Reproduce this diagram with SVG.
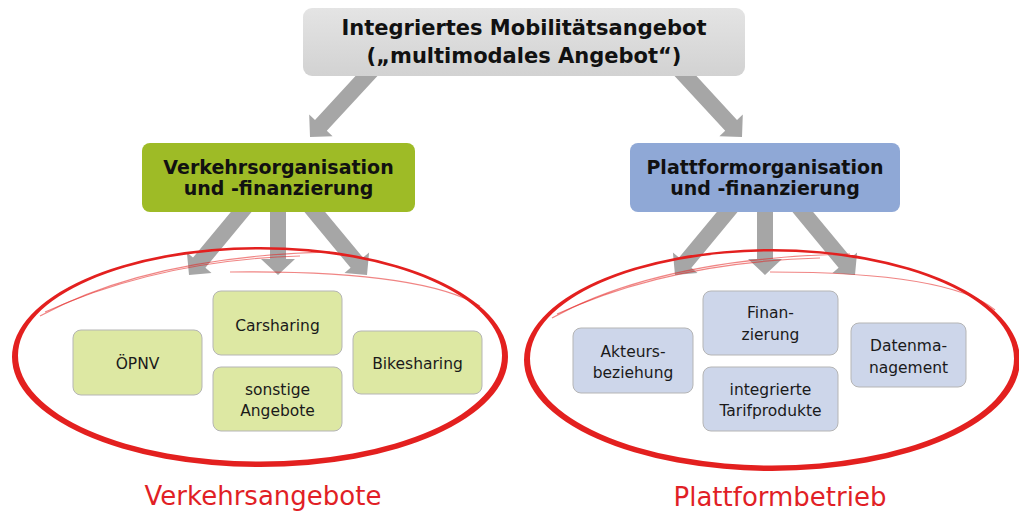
<svg xmlns="http://www.w3.org/2000/svg" width="1019" height="512" viewBox="0 0 1019 512">
<defs>
<linearGradient id="gTop" x1="0" y1="0" x2="0" y2="1"><stop offset="0" stop-color="#e4e4e4"/><stop offset="1" stop-color="#d2d2d2"/></linearGradient>
<style>
.arrow{fill:#a6a6a6;}
.hdr{font-family:"DejaVu Sans",Verdana,sans-serif;font-weight:bold;fill:#111;text-anchor:middle;}
.sm{font-family:"DejaVu Sans",Verdana,sans-serif;font-size:15.5px;fill:#1a1a1a;text-anchor:middle;}
.lbl{font-family:"DejaVu Sans",Verdana,sans-serif;font-size:26px;fill:#e11f26;text-anchor:middle;}
.ring{fill:#e3201f;fill-rule:evenodd;}
.sketch{fill:none;stroke:#e3201f;stroke-width:1.2;opacity:0.55;}
.gbox{fill:#dde8a3;stroke:#b5b5b5;stroke-width:1;}
.bbox{fill:#cdd6ea;stroke:#b5b5b5;stroke-width:1;}
</style>
</defs>
<rect width="1019" height="512" fill="#ffffff"/>
<g id="connectors">
<polygon class="arrow" points="366.1,64.6 315.0,119.9 309.2,114.4 310,137 332.6,136.2 326.8,130.7 377.9,75.4"/>
<polygon class="arrow" points="685.9,64.6 737,119.9 742.8,114.4 742,137 719.4,136.2 725.2,130.7 674.1,75.4"/>
<polygon class="arrow" points="240.8,199.9 193.0,257.6 186.9,252.5 189,275 211.5,272.9 205.4,267.8 253.2,210.1"/>
<polygon class="arrow" points="270,205 270,259 261,259 278,275 295,259 286,259 286,205"/>
<polygon class="arrow" points="315.2,199.9 363,257.6 369.1,252.5 367,275 344.5,272.9 350.6,267.8 302.8,210.1"/>
<polygon class="arrow" points="726.8,199.9 679,257.6 672.9,252.5 675,275 697.5,272.9 691.4,267.8 739.2,210.1"/>
<polygon class="arrow" points="757,205 757,259 748,259 765,275 782,259 773,259 773,205"/>
<polygon class="arrow" points="803.2,199.9 851,257.6 857.1,252.5 855,275 832.5,272.9 838.6,267.8 790.8,210.1"/>
</g>
<g id="group-verkehrsangebote">
<path class="ring" d="M12,357 A248,110 0 1,0 508,357 A248,110 0 1,0 12,357 Z M18,355.5 A242,106 0 1,0 502,355.5 A242,106 0 1,0 18,355.5 Z"/>
<path class="sketch" d="M40,316 Q150,256 330,252"/>
<path class="sketch" d="M45,312 Q160,260 300,256"/>
<path class="sketch" d="M230,272 Q420,270 480,306"/>
<text class="lbl" x="263" y="505">Verkehrsangebote</text>
</g>
<g id="group-plattformbetrieb">
<path class="ring" d="M524,360 A248,111 0 1,0 1020,360 A248,111 0 1,0 524,360 Z M530,358.5 A242,107 0 1,0 1014,358.5 A242,107 0 1,0 530,358.5 Z"/>
<path class="sketch" d="M552,318 Q660,258 850,254"/>
<path class="sketch" d="M557,314 Q670,262 820,258"/>
<path class="sketch" d="M770,272 Q950,272 995,310"/>
<text class="lbl" x="780" y="506">Plattformbetrieb</text>
</g>
<g id="node-top">
<rect x="303" y="8" width="442" height="68" rx="9" fill="url(#gTop)"/>
<text class="hdr" x="524" y="35" font-size="21">Integriertes Mobilitätsangebot</text>
<text class="hdr" x="524" y="63" font-size="21">(„multimodales Angebot“)</text>
</g>
<g id="node-verkehrsorg">
<rect x="142" y="143" width="273" height="69" rx="8" fill="#9ebb26"/>
<text class="hdr" x="278.5" y="174" font-size="19">Verkehrsorganisation</text>
<text class="hdr" x="278.5" y="195" font-size="19">und -finanzierung</text>
</g>
<g id="node-plattformorg">
<rect x="630" y="143" width="270" height="69" rx="8" fill="#8fa8d6"/>
<text class="hdr" x="765" y="174" font-size="19">Plattformorganisation</text>
<text class="hdr" x="765" y="195" font-size="19">und -finanzierung</text>
</g>
<g id="node-oepnv">
<rect class="gbox" x="73" y="330" width="129" height="65" rx="8"/>
<text class="sm" x="137.5" y="369">ÖPNV</text>
</g>
<g id="node-carsharing">
<rect class="gbox" x="213" y="291" width="129" height="64" rx="8"/>
<text class="sm" x="277.5" y="331">Carsharing</text>
</g>
<g id="node-sonstige">
<rect class="gbox" x="213" y="367" width="129" height="64" rx="8"/>
<text class="sm" x="277.5" y="395">sonstige</text>
<text class="sm" x="277.5" y="416">Angebote</text>
</g>
<g id="node-bikesharing">
<rect class="gbox" x="353" y="331" width="129" height="63" rx="8"/>
<text class="sm" x="417.5" y="369">Bikesharing</text>
</g>
<g id="node-akteurs">
<rect class="bbox" x="573" y="328" width="120" height="65" rx="8"/>
<text class="sm" x="633" y="357">Akteurs-</text>
<text class="sm" x="633" y="378">beziehung</text>
</g>
<g id="node-finanzierung">
<rect class="bbox" x="703" y="291" width="135" height="64" rx="8"/>
<text class="sm" x="770.5" y="318">Finan-</text>
<text class="sm" x="770.5" y="340">zierung</text>
</g>
<g id="node-tarif">
<rect class="bbox" x="703" y="367" width="135" height="64" rx="8"/>
<text class="sm" x="770.5" y="395">integrierte</text>
<text class="sm" x="770.5" y="416">Tarifprodukte</text>
</g>
<g id="node-daten">
<rect class="bbox" x="851" y="323" width="115" height="64" rx="8"/>
<text class="sm" x="908.5" y="351">Datenma-</text>
<text class="sm" x="908.5" y="373">nagement</text>
</g>
</svg>
